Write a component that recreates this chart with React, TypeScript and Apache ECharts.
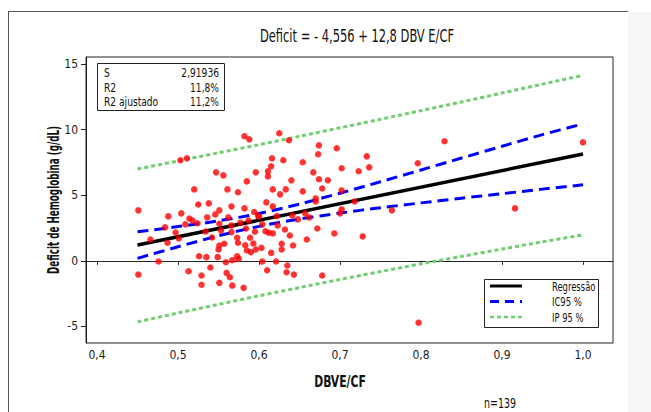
import React, { useEffect, useRef } from "react";
import * as echarts from "echarts";

const FONT = "'Liberation Sans Narrow','DejaVu Sans Condensed','Roboto Condensed',sans-serif";

const xTicks = [0.4, 0.5, 0.6, 0.7, 0.8, 0.9, 1.0];
const yTicks = [-5, 0, 5, 10, 15];

const regX = [0.45, 1.0];
const regY = [1.2, 8.15];
const lineX = [0.45, 0.5, 0.55, 0.6, 0.65, 0.7, 0.75, 0.8, 0.85, 0.9, 0.95, 1.0];
const ciUpper = [2.21, 2.61, 3.05, 3.61, 4.33, 5.16, 6.03, 6.93, 7.84, 8.74, 9.63, 10.45];
const ciLower = [0.19, 1.07, 1.91, 2.63, 3.19, 3.64, 4.05, 4.42, 4.78, 5.12, 5.47, 5.8];
const piUpper = [7.0, 7.62, 8.24, 8.86, 9.5, 10.15, 10.8, 11.46, 12.12, 12.8, 13.48, 14.15];
const piLower = [-4.66, -3.98, -3.32, -2.67, -2.04, -1.42, -0.82, -0.23, 0.34, 0.9, 1.45, 1.98];

const pointsX = [
  0.582, 0.588, 0.625, 0.637, 0.503, 0.511, 0.616, 0.63, 0.547, 0.556,
  0.596, 0.611, 0.615, 0.611, 0.585, 0.64, 0.52, 0.561, 0.574, 0.617,
  0.633, 0.626, 0.451, 0.525, 0.538, 0.504, 0.488, 0.551, 0.566, 0.582,
  0.609, 0.617, 0.514, 0.518, 0.536, 0.546, 0.6, 0.674, 0.829, 0.673,
  0.696, 0.654, 0.733, 0.702, 0.736, 0.723, 0.796, 0.667, 0.674, 0.685,
  0.678, 0.654, 0.702, 0.67, 0.67, 0.718, 0.702, 0.7, 0.764, 0.657,
  0.648, 0.662, 0.641, 0.672, 0.693, 0.728, 0.659, 0.642, 0.643, 0.678,
  1.0, 0.916, 0.797, 0.451, 0.524, 0.551, 0.566, 0.577, 0.594, 0.599,
  0.622, 0.553, 0.566, 0.584, 0.595, 0.608, 0.612, 0.617, 0.573, 0.589,
  0.557, 0.551, 0.55, 0.574, 0.583, 0.585, 0.59, 0.596, 0.603, 0.615,
  0.628, 0.628, 0.487, 0.501, 0.476, 0.526, 0.535, 0.549, 0.559, 0.567,
  0.573, 0.575, 0.513, 0.529, 0.529, 0.56, 0.564, 0.551, 0.567, 0.581,
  0.61, 0.635, 0.634, 0.484, 0.497, 0.509, 0.534, 0.542, 0.562, 0.587,
  0.604, 0.623, 0.632, 0.638, 0.593, 0.604, 0.621, 0.54, 0.466,
];
const pointsY = [
  9.5, 9.27, 9.73, 9.2, 7.67, 7.82, 7.82, 7.67, 6.75, 6.52,
  6.75, 6.83, 7.21, 6.44, 6.06, 6.14, 5.45, 5.45, 5.23, 5.45,
  5.45, 5.07, 3.85, 4.3, 4.38, 3.62, 3.39, 3.85, 4.15, 4.0,
  4.46, 4.15, 3.23, 3.08, 3.31, 3.54, 3.39, 8.81, 9.12, 8.13,
  8.59, 7.52, 7.97, 7.06, 7.13, 6.83, 7.44, 6.75, 6.22, 6.14,
  5.52, 5.3, 5.37, 4.76, 4.53, 4.53, 3.92, 3.62, 3.85, 3.62,
  3.16, 3.31, 3.46, 2.47, 2.09, 1.86, 1.63, 1.17, -1.05, -1.12,
  9.04, 4.0, -4.72, -1.05, 2.87, 2.83, 2.7, 2.91, 3.72, 3.41,
  3.41, 2.32, 2.19, 2.47, 2.22, 2.26, 2.14, 2.09, 1.76, 1.76,
  1.3, 1.17, 0.86, 1.38, 1.19, 0.79, 0.66, 0.86, 0.99, 0.61,
  1.3, 0.86, 1.38, 1.7, -0.05, 0.35, 0.28, 0.28, -0.11, 0.05,
  0.35, 0.15, -0.8, -1.12, -1.83, -0.92, -1.25, -1.68, -1.89, -2.06,
  -0.72, -0.36, -0.87, 2.55, 2.16, 2.78, 2.24, 1.78, 3.31, 3.08,
  2.78, 2.7, 2.39, 1.93, 1.32, -0.05, -0.05, -0.51, 1.63,
];

const statsLabels = ["S", "R2", "R2 ajustado"];
const statsValues = ["2,91936", "11,8%", "11,2%"];
const legendNames = ["Regressão", "IC95 %", "IP 95 %"];

const BLUE = "#0000ff";
const GREEN = "#6fcf6f";
const BLACK = "#000000";

function pairs(xs: number[], ys: number[]) {
  return xs.map((x, i) => [x, ys[i]]);
}

function txt(
  x: number,
  y: number,
  text: string,
  font: string,
  align: string,
  scaleX: number,
  rotation = 0,
  z = 101
) {
  return {
    type: "text",
    x,
    y,
    scaleX,
    scaleY: 1,
    rotation,
    z,
    style: { text, fill: "#111", font, align, verticalAlign: "middle" },
  };
}

export default function App() {
  const ref = useRef<HTMLDivElement>(null);
  useEffect(() => {
    if (!ref.current) return;
    const chart = echarts.init(ref.current, null, { renderer: "svg" });
    const legendStyles = [
      { color: BLACK, width: 3, dash: null as any },
      { color: BLUE, width: 3, dash: [9, 6] },
      { color: GREEN, width: 2.5, dash: [4, 3] },
    ];
    const legendGraphics: any[] = [
      {
        type: "rect",
        shape: { x: 484.5, y: 279.5, width: 114, height: 48 },
        style: { fill: "#fff", stroke: "#222", lineWidth: 1 },
        z: 100,
      },
    ];
    legendNames.forEach((name, i) => {
      const y = 286 + i * 15.5;
      const s = legendStyles[i];
      legendGraphics.push({
        type: "line",
        shape: { x1: 490, y1: y, x2: 522, y2: y },
        style: { stroke: s.color, lineWidth: s.width, lineDash: s.dash || undefined },
        z: 101,
      });
      legendGraphics.push(txt(552, y, name, `13px ${FONT}`, "left", 0.72));
    });
    const statsGraphics: any[] = [
      {
        type: "rect",
        shape: { x: 97.5, y: 63.5, width: 127, height: 47 },
        style: { fill: "#fff", stroke: "#222", lineWidth: 1 },
        z: 100,
      },
    ];
    statsLabels.forEach((lab, i) => {
      const y = 73 + i * 14.5;
      statsGraphics.push(txt(104, y, lab, `13px ${FONT}`, "left", 0.78));
      statsGraphics.push(txt(219, y, statsValues[i], `13px ${FONT}`, "right", 0.78));
    });

    chart.setOption({
      animation: false,
      backgroundColor: "#ffffff",
      grid: {
        left: 86,
        right: 38,
        top: 57,
        bottom: 69,
        show: true,
        borderColor: "#222",
        borderWidth: 1,
        backgroundColor: "transparent",
      },
      xAxis: {
        type: "value",
        min: 0.3864,
        max: 1.037,
        axisLine: { show: true, lineStyle: { color: "#222", width: 1 } },
        axisTick: { show: true, length: 4, customValues: xTicks, lineStyle: { color: "#222" } },
        axisLabel: {
          customValues: xTicks,
          margin: 6,
          color: "#222",
          fontFamily: FONT,
          fontSize: 12,
          formatter: (v: number) => v.toFixed(1).replace(".", ","),
        },
        splitLine: { show: false },
      },
      yAxis: {
        type: "value",
        min: -6.27,
        max: 15.55,
        axisLine: { show: true, lineStyle: { color: "#222", width: 1 } },
        axisTick: { show: true, length: 5, customValues: yTicks, lineStyle: { color: "#222" } },
        axisLabel: {
          customValues: yTicks,
          margin: 8,
          color: "#222",
          fontFamily: FONT,
          fontSize: 12,
          formatter: (v: number) => String(Math.round(v)),
        },
        splitLine: { show: false },
      },
      series: [
        {
          type: "line",
          data: pairs(lineX, piUpper),
          symbol: "none",
          smooth: 0.3,
          lineStyle: { color: GREEN, width: 3, type: [4, 3] },
          z: 2,
        },
        {
          type: "line",
          data: pairs(lineX, piLower),
          symbol: "none",
          smooth: 0.3,
          lineStyle: { color: GREEN, width: 3, type: [4, 3] },
          z: 2,
        },
        {
          type: "line",
          data: pairs(lineX, ciUpper),
          symbol: "none",
          smooth: 0.3,
          lineStyle: { color: BLUE, width: 3, type: [11, 6] },
          z: 3,
        },
        {
          type: "line",
          data: pairs(lineX, ciLower),
          symbol: "none",
          smooth: 0.3,
          lineStyle: { color: BLUE, width: 3, type: [11, 6] },
          z: 3,
        },
        {
          type: "line",
          data: pairs(regX, regY),
          symbol: "none",
          lineStyle: { color: BLACK, width: 3.5 },
          z: 4,
        },
        {
          type: "scatter",
          data: pairs(pointsX, pointsY),
          symbol: "circle",
          symbolSize: 6.5,
          itemStyle: { color: "#ff0000" },
          z: 5,
        },
      ],
      graphic: [
        {
          type: "rect",
          shape: { x: 628, y: 12, width: 23, height: 400 },
          style: { fill: "#f6f6f6" },
          z: 0,
        },
        {
          type: "line",
          shape: { x1: 8.5, y1: 11, x2: 8.5, y2: 412 },
          style: { stroke: "#555", lineWidth: 1 },
        },
        {
          type: "line",
          shape: { x1: 8, y1: 11.5, x2: 628, y2: 11.5 },
          style: { stroke: "#555", lineWidth: 1 },
        },
        txt(357, 36, "Deficit = - 4,556 + 12,8 DBV E/CF", `17px ${FONT}`, "center", 0.75),
        txt(54, 200, "Deficit de Hemoglobina (g/dL)", `bold 15px ${FONT}`, "center", 0.65, Math.PI / 2),
        txt(340, 381, "DBVE/CF", `bold 16px ${FONT}`, "center", 0.75),
        txt(500, 403, "n=139", `14px ${FONT}`, "center", 0.75),
        ...statsGraphics,
        ...legendGraphics,
      ],
    });
    return () => chart.dispose();
  }, []);
  return (
    <div
      ref={ref}
      style={{ position: "fixed", left: 0, top: 0, width: 651, height: 412 }}
    />
  );
}
